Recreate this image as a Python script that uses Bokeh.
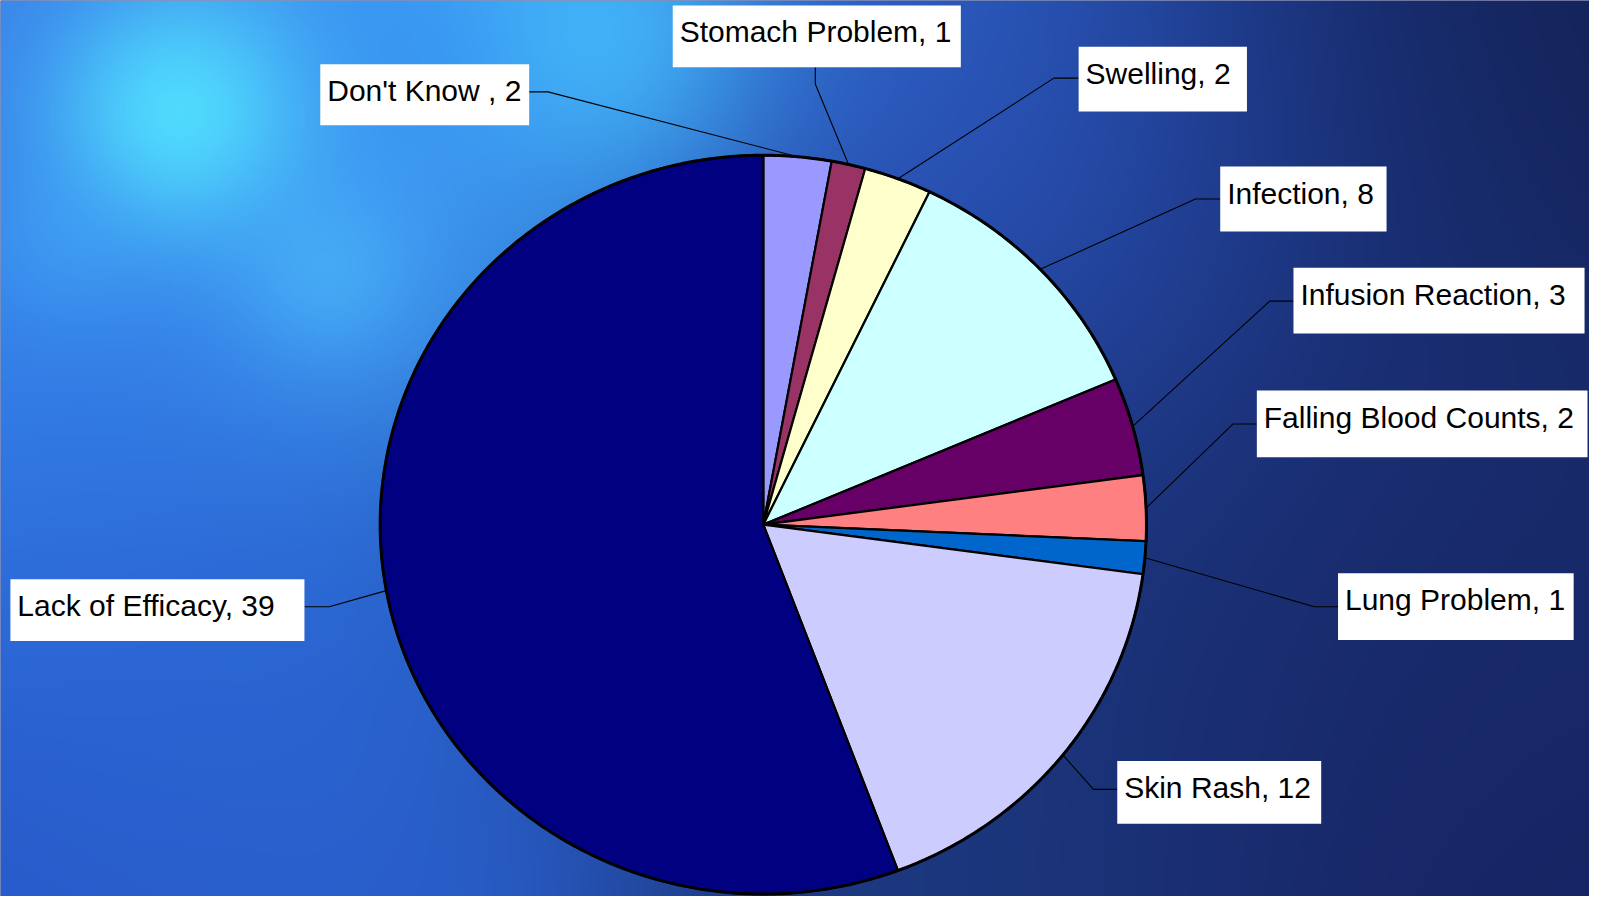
import numpy as np
from bokeh.plotting import figure
from bokeh.models import Range1d, ColumnDataSource
from bokeh.embed import file_html
from bokeh.resources import INLINE
from bokeh.core.properties import value

# ---------------- data ----------------
categories = ["Don't Know ", "Stomach Problem", "Swelling", "Infection", "Infusion Reaction",
              "Falling Blood Counts", "Lung Problem", "Skin Rash", "Lack of Efficacy"]
counts = [2, 1, 2, 8, 3, 2, 1, 12, 39]
colors = ["#9999FF", "#993366", "#FFFFCC", "#CCFFFF", "#660066",
          "#FF8080", "#0066CC", "#CCCCFF", "#000080"]

# ---------------- layout (reference pixel coordinates, y down) ----------------
W_REF, H_REF = 1605, 912
CX, CY, RX, RY = 770.5, 533.5, 387.0, 376.0
# label boxes: left, top, right, bottom
boxes = [(323, 65, 534, 127), (679, 5, 970, 68), (1089, 47, 1259, 113),
         (1232, 169, 1400, 235), (1306, 272, 1600, 339), (1269, 397, 1603, 465),
         (1351, 583, 1589, 651), (1128, 774, 1334, 838), (10, 589, 307, 652)]
# leader start (on box) and elbow
leader_start = [(534, 93), (823, 68), (1089, 79), (1232, 202), (1306, 306),
                (1269, 431), (1351, 617), (1128, 803), (307, 617)]
leader_elbow = [(553, 93), (823, 85), (1064, 79), (1207, 202), (1282, 306),
                (1245, 431), (1327, 617), (1104, 803), (332, 617)]


def Y(y):
    return H_REF - np.asarray(y, dtype=float)


p = figure(width=1589, height=896, x_range=Range1d(0, W_REF), y_range=Range1d(0, H_REF),
           output_backend="svg", toolbar_location=None, min_border=0)
p.axis.visible = False
p.grid.visible = False
p.outline_line_color = None
p.background_fill_color = "#16226a"
p.border_fill_color = "#16226a"

# ---------------- background texture (decorative) ----------------
h, w = 304, 535
yr = (np.arange(h)[::-1] + 0.5) * H_REF / h      # row 0 is bottom -> reference y
xr = (np.arange(w) + 0.5) * W_REF / w
XX, YY = np.meshgrid(xr, yr)
bg_samples = [
    (20, 20, "#3a80e8", 200), (185, 115, "#52dcff", 90), (100, 300, "#3a90f0", 200),
    (350, 290, "#48b0ff", 120), (40, 460, "#3074e4", 180), (60, 820, "#2752c4", 200),
    (300, 870, "#2a60cc", 200), (615, 35, "#42b8ff", 130), (920, 60, "#2f68d0", 180),
    (1020, 200, "#2a4eb5", 200), (1330, 100, "#1a3580", 220), (1590, 40, "#121c4a", 200),
    (1530, 510, "#182a6a", 240), (1430, 870, "#162060", 240), (1020, 900, "#1c3a80", 200),
    (770, 520, "#1f3c90", 250), (250, 600, "#2c70dc", 200), (1200, 650, "#1b3275", 240),
    (460, 120, "#3c98f8", 150), (180, 700, "#2a64d4", 160),
]
num = np.zeros((h, w, 3))
den = np.zeros((h, w))
for sx, sy, c, s in bg_samples:
    rgb = np.array([int(c[i:i + 2], 16) for i in (1, 3, 5)], dtype=float)
    wgt = np.exp(-((XX - sx) ** 2 + (YY - sy) ** 2) / (2 * s * s)) + 1e-12
    num += wgt[..., None] * rgb
    den += wgt
img = num / den[..., None]
highlights = [(180, 115, "#52e2ff", 75, 0.85), (610, 40, "#48c8ff", 85, 0.5),
              (330, 280, "#52c8ff", 60, 0.4), (60, 250, "#48b8ff", 60, 0.3),
              (420, 60, "#3090f0", 60, 0.3)]
for sx, sy, c, s, a in highlights:
    rgb = np.array([int(c[i:i + 2], 16) for i in (1, 3, 5)], dtype=float)
    al = a * np.exp(-((XX - sx) ** 2 + (YY - sy) ** 2) / (2 * s * s))
    img = img * (1 - al[..., None]) + rgb * al[..., None]
rgba = np.empty((h, w), dtype=np.uint32)
view = rgba.view(dtype=np.uint8).reshape((h, w, 4))
view[..., :3] = np.clip(img, 0, 255).astype(np.uint8)
view[..., 3] = 255
p.image_rgba(image=[rgba], x=0, y=0, dw=W_REF, dh=H_REF)

# ---------------- pie ----------------
total = float(sum(counts))
cum = np.concatenate([[0.0], np.cumsum(counts)])
xs, ys, mids = [], [], []
for i in range(len(counts)):
    t0 = cum[i] / total * 2 * np.pi
    t1 = cum[i + 1] / total * 2 * np.pi
    n = max(4, int(np.ceil((t1 - t0) / (2 * np.pi) * 400)))
    t = np.linspace(t0, t1, n)
    px = np.concatenate([[CX], CX + RX * np.sin(t)])
    py = np.concatenate([[CY], CY - RY * np.cos(t)])
    xs.append(list(px))
    ys.append(list(Y(py)))
    mids.append((t0 + t1) / 2)

src = ColumnDataSource(dict(xs=xs, ys=ys, color=colors, cat=categories, n=counts))
p.patches("xs", "ys", source=src, fill_color="color", line_color="black", line_width=2.2,
          line_join="miter")
tt = np.linspace(0, 2 * np.pi, 600)
p.line(CX + RX * np.sin(tt), Y(CY - RY * np.cos(tt)), line_color="black", line_width=3)

# ---------------- leader lines ----------------
lx, ly = [], []
for i, m in enumerate(mids):
    ex = CX + RX * np.sin(m)
    ey = CY - RY * np.cos(m)
    sx, sy = leader_start[i]
    kx, ky = leader_elbow[i]
    lx.append([sx, kx, ex])
    ly.append(list(Y([sy, ky, ey])))
p.multi_line(lx, ly, line_color="black", line_width=1.1)

# ---------------- labels ----------------
labels = [f"{c}, {v}" for c, v in zip(categories, counts)]
left = [b[0] for b in boxes]
right = [b[2] for b in boxes]
top = list(Y([b[1] for b in boxes]))
bottom = list(Y([b[3] for b in boxes]))
p.quad(left=left, right=right, top=top, bottom=bottom, fill_color="white", line_color=None)
tx = [b[0] + 7 for b in boxes]
ty = list(Y([b[1] + 27 for b in boxes]))
p.text(x=tx, y=ty, text=labels, text_font=value("Liberation Sans"), text_font_size="30px",
       text_color="black", text_baseline="alphabetic", text_align="left")

open("out.html", "w").write(file_html(p, INLINE))
